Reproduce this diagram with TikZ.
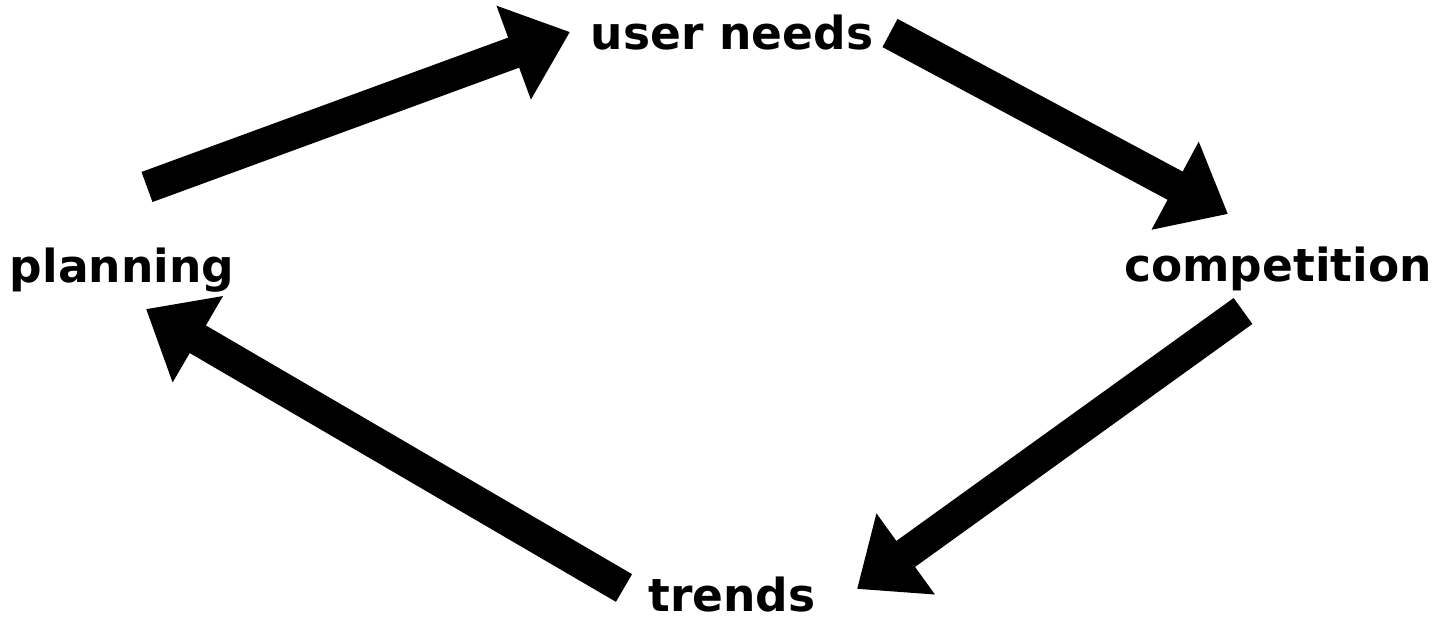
\documentclass[tikz,border=0pt]{standalone}
\usepackage{fontspec}
\setmainfont{DejaVu Sans}
\usetikzlibrary{arrows.meta}
\tikzset{
  lbl/.style={anchor=base, inner sep=0pt, font=\bfseries\fontsize{22.75}{27}\selectfont},
  flow/.style={line width=16pt, line cap=butt, -{Triangle[length=30pt,width=48pt]}}
}
\begin{document}
\begin{tikzpicture}[x=0.5pt,y=-0.5pt]
\useasboundingbox (0,0) rectangle (1439,624);
\node[lbl] (needs) at (732,50) {user needs};
\node[lbl] (comp) at (1278,282) {competition};
\node[lbl] (trends) at (732,611) {trends};
\node[lbl] (plan) at (122,283) {planning};
\coordinate (a1s) at (147,187);
\coordinate (a1e) at (570,32);
\coordinate (a2s) at (890,33);
\coordinate (a2e) at (1228,214);
\coordinate (a3s) at (1243,311);
\coordinate (a3e) at (857,589);
\coordinate (a4s) at (624,588);
\coordinate (a4e) at (146,309);
\draw[flow] (a1s) -- (a1e);
\draw[flow] (a2s) -- (a2e);
\draw[flow] (a3s) -- (a3e);
\draw[flow] (a4s) -- (a4e);
\end{tikzpicture}
\end{document}
